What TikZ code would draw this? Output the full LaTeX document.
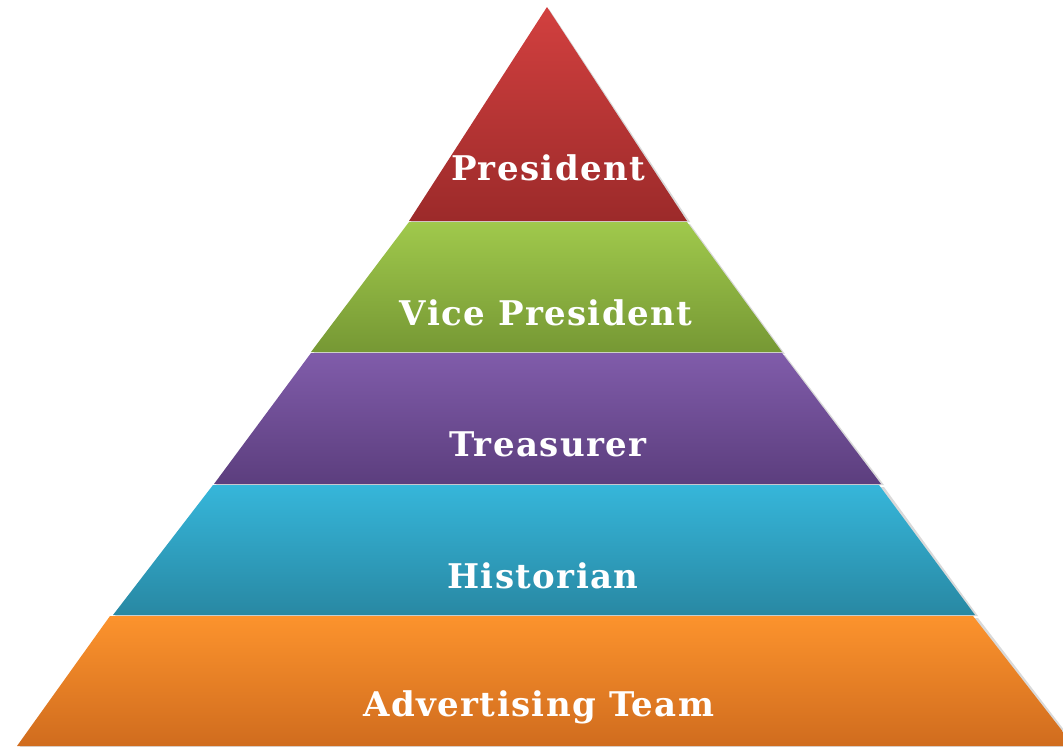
\documentclass[tikz,border=0pt]{standalone}
\usepackage{fontspec}
\setmainfont{DejaVu Serif}[LetterSpace=4]
\begin{document}
\begin{tikzpicture}[x=1pt,y=-1pt,
  layer/.style={draw=none},
  shadowpath/.style={fill=black,opacity=0.15},
  lbl/.style={text=white,font=\fontsize{34}{40}\selectfont\bfseries,anchor=center,inner sep=0pt}]
\useasboundingbox (0,0) rectangle (1063,747);
\clip (0,0) rectangle (1063,747);
% shadows
\fill[shadowpath] (549,9) -- (690,222) -- (411,222) -- cycle;
\fill[shadowpath] (411,224) -- (690,224) -- (785,354) -- (313,354) -- cycle;
\fill[shadowpath] (313,355) -- (785,355) -- (884,485) -- (216,485) -- cycle;
\fill[shadowpath] (216,487) -- (884,487) -- (978,616) -- (115,616) -- cycle;
\fill[shadowpath] (112,618) -- (978,618) -- (1078,748) -- (19,748) -- cycle;
% layers
\shade[layer,top color={rgb,255:red,210;green,64;blue,63},bottom color={rgb,255:red,156;green,42;blue,42}]
  (547,7) -- (687,221) -- (409,221) -- cycle;
\shade[layer,top color={rgb,255:red,160;green,201;blue,76},bottom color={rgb,255:red,118;green,152;blue,52}]
  (409,222) -- (687,222) -- (782,352) -- (311,352) -- cycle;
\shade[layer,top color={rgb,255:red,128;green,92;blue,170},bottom color={rgb,255:red,92;green,62;blue,126}]
  (311,353) -- (782,353) -- (881,484) -- (214,484) -- cycle;
\shade[layer,top color={rgb,255:red,54;green,182;blue,218},bottom color={rgb,255:red,40;green,136;blue,163}]
  (213,485) -- (879,485) -- (975,615) -- (113,615) -- cycle;
\shade[layer,top color={rgb,255:red,252;green,147;blue,45},bottom color={rgb,255:red,208;green,108;blue,30}]
  (110,616) -- (973,616) -- (1074,746) -- (17,746) -- cycle;
% labels
\node[lbl] (president) at (548,168) {President};
\node[lbl] (vp) at (546,313) {Vice President};
\node[lbl] (treasurer) at (548,444) {Treasurer};
\node[lbl] (historian) at (543,576) {Historian};
\node[lbl] (adv) at (539,707) {Advertising Team};
\end{tikzpicture}
\end{document}
